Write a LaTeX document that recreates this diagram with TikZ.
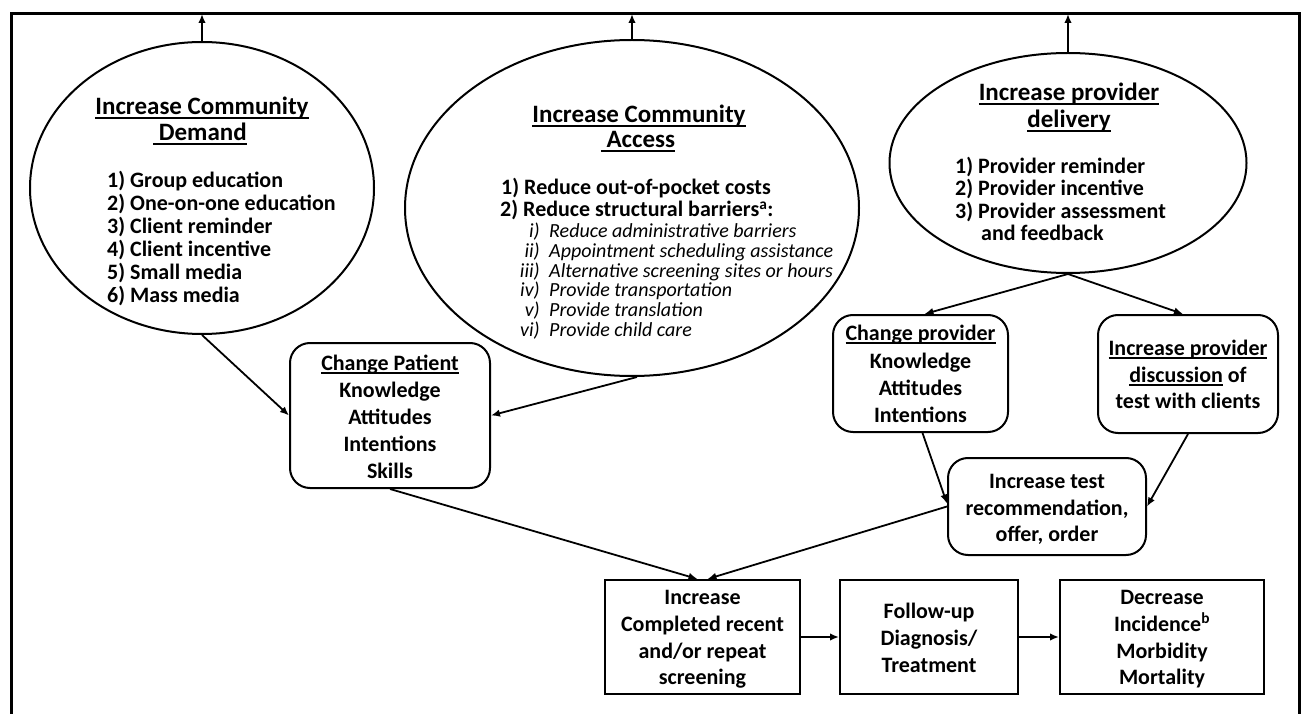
\documentclass[tikz,border=0pt]{standalone}
\usepackage{fontspec}
\setmainfont{Carlito}
\usetikzlibrary{arrows.meta,shapes.geometric}
\newsavebox\ulbox
\newcommand\myul[1]{\sbox\ulbox{#1}\rlap{\rule[-3.6pt]{\wd\ulbox}{1.6pt}}\usebox\ulbox}
\tikzset{
  ell/.style={draw, ellipse, line width=2pt, inner sep=0pt},
  rbox/.style={draw, rounded corners=20pt, line width=2pt, inner sep=0pt},
  sqbox/.style={draw, line width=2pt, inner sep=0pt},
  tx/.style={anchor=base, inner sep=0pt, font=\bfseries\fontsize{22}{26}\selectfont},
  ttl/.style={anchor=base, inner sep=0pt, font=\bfseries\fontsize{25}{27}\selectfont},
  itm/.style={anchor=base west, inner sep=0pt, font=\bfseries\fontsize{22}{23}\selectfont},
  itn/.style={anchor=base east, inner sep=0pt, font=\itshape\fontsize{20}{20}\selectfont},
  itt/.style={anchor=base west, inner sep=0pt, font=\itshape\fontsize{20}{20}\selectfont},
  arr/.style={-{Latex[length=9pt,width=7.5pt]}, line width=1.8pt},
}
\begin{document}
\begin{tikzpicture}[x=1pt,y=-1pt]
\useasboundingbox (0,0) rectangle (1302,714);
% frame
\draw[line width=3pt] (11,714) -- (11,14) -- (1299,14) -- (1299,714);
\coordinate (ft) at (0,14);

% ellipses
\node[ell, minimum width=344pt, minimum height=292pt] (e1) at (202,188) {};
\node[ell, minimum width=454pt, minimum height=336pt] (e2) at (632,208) {};
\node[ell, minimum width=357pt, minimum height=220pt] (e3) at (1068,163) {};

% ellipse 1 text
\node[ttl] (e1a) at (202,115) {\myul{Increase Community}};
\node[ttl] (e1b) at (200,141) {\myul{\ Demand}};
\foreach \t [count=\i] in {1) Group education, 2) One-on-one education, 3) Client reminder, 4) Client incentive, 5) Small media, 6) Mass media}
  \node[itm] (e1i\i) at (107,{188+22.8*(\i-1)}) {\t};

% ellipse 2 text
\node[ttl] (e2a) at (639,123) {\myul{Increase Community}};
\node[ttl] (e2b) at (638,148) {\myul{\ Access}};
\node[itm] (e2i1) at (501,195) {1) Reduce out-of-pocket costs};
\node[itm] (e2i2) at (500,217) {2) Reduce structural barriers\textsuperscript{a}:};
\foreach \n/\t [count=\i] in {i)/Reduce administrative barriers, ii)/Appointment scheduling assistance, iii)/Alternative screening sites or hours, iv)/Provide transportation, v)/Provide translation, vi)/Provide child care}{
  \node[itn] (e2n\i) at (540,{238+19.6*(\i-1)}) {\n};
  \node[itt] (e2t\i) at (549,{238+19.6*(\i-1)}) {\t};
}

% ellipse 3 text
\node[ttl] (e3a) at (1069,101) {\myul{Increase provider}};
\node[ttl] (e3b) at (1069,128) {\myul{delivery}};
\node[itm] (e3i1) at (955,174) {1) Provider reminder};
\node[itm] (e3i2) at (955,196) {2) Provider incentive};
\node[itm] (e3i3) at (955,219) {3) Provider assessment};
\node[itm] (e3i4) at (981,241) {and feedback};

% boxes
\node[rbox, minimum width=200pt, minimum height=145pt] (cp) at (390,415.5) {};
\node[tx] (cp1) at (390,370) {\myul{Change Patient}};
\node[tx] (cp2) at (390,397) {Knowledge};
\node[tx] (cp3) at (390,424) {Attitudes};
\node[tx] (cp4) at (390,451) {Intentions};
\node[tx] (cp5) at (390,478) {Skills};

\node[rbox, minimum width=175pt, minimum height=117pt] (cv) at (920.5,373.5) {};
\node[tx] (cv1) at (920.5,340) {\myul{Change provider}};
\node[tx] (cv2) at (920.5,368) {Knowledge};
\node[tx] (cv3) at (920.5,395) {Attitudes};
\node[tx] (cv4) at (920.5,422) {Intentions};

\node[rbox, minimum width=180pt, minimum height=118pt] (dp) at (1188,374) {};
\node[tx] (dp1) at (1188,355) {\myul{Increase provider}};
\node[tx] (dp2) at (1188,382) {\myul{discussion} of};
\node[tx] (dp3) at (1188,408) {test with clients};

\node[rbox, minimum width=198pt, minimum height=97pt] (it) at (1047,506.5) {};
\node[tx] (it1) at (1047,488) {Increase test};
\node[tx] (it2) at (1047,515) {recommendation,};
\node[tx] (it3) at (1047,541) {offer, order};

\node[sqbox, minimum width=195pt, minimum height=114pt] (sc) at (702.5,637) {};
\node[tx] (sc1) at (702.5,604) {Increase};
\node[tx] (sc2) at (702.5,631) {Completed recent};
\node[tx] (sc3) at (702.5,658) {and/or repeat};
\node[tx] (sc4) at (702.5,684) {screening};

\node[sqbox, minimum width=178pt, minimum height=114pt] (fu) at (929,637) {};
\node[tx] (fu1) at (929,618) {Follow-up};
\node[tx] (fu2) at (929,645) {Diagnosis/};
\node[tx] (fu3) at (929,672) {Treatment};

\node[sqbox, minimum width=204pt, minimum height=114pt] (dc) at (1162,637) {};
\node[tx] (dc1) at (1162,604) {Decrease};
\node[tx] (dc2) at (1162,631) {Incidence\textsuperscript{b}};
\node[tx] (dc3) at (1162,658) {Morbidity};
\node[tx] (dc4) at (1162,684) {Mortality};

% connectors
\draw[arr] (e1.north) -- (e1.north |- ft);
\draw[arr] (e2.north) -- (e2.north |- ft);
\draw[arr] (e3.north) -- (e3.north |- ft);
\draw[arr] (e1.south) -- (cp.west);
\draw[arr] ([xshift=5pt]e2.south) -- (cp.east);
\draw[arr] (cp.south) -- ([xshift=-5pt]sc.north);
\draw[arr] (e3.south) -- ([xshift=4pt]cv.north);
\draw[arr] (e3.south) -- ([xshift=-5pt]dp.north);
\draw[arr] ([xshift=2pt]cv.south) -- ([yshift=3pt]it.west);
\draw[arr] (dp.south) -- (it.east);
\draw[arr] (it.west) -- ([xshift=5pt]sc.north);
\draw[arr] (sc.east) -- (fu.west);
\draw[arr] (fu.east) -- (dc.west);
\end{tikzpicture}
\end{document}
